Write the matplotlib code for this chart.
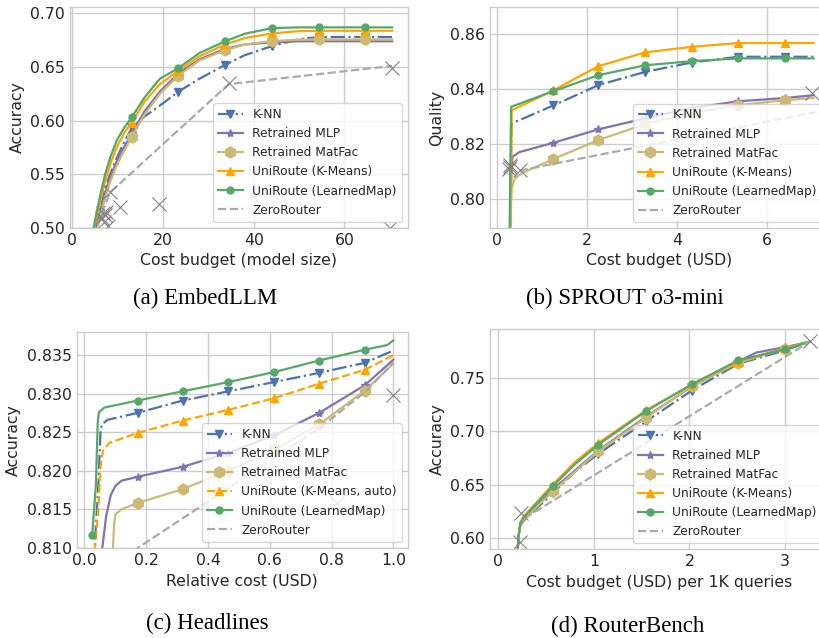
import matplotlib
matplotlib.use("Agg")
import matplotlib.pyplot as plt

# ---------------- data ----------------
# (a) EmbedLLM
a_marks = [13.1, 23.4, 33.7, 44.0, 54.3, 64.6]
a_knn_x = [5.2, 6.0, 7.0, 8.0, 9.5, 11.0, 13.1, 16.0, 19.3, 23.4, 28.0, 33.7, 38.0, 44.0, 50.0, 54.3, 64.6, 70.5]
a_knn_y = [0.500, 0.515, 0.532, 0.546, 0.562, 0.576, 0.593, 0.604, 0.614, 0.627, 0.639, 0.652, 0.661, 0.6695, 0.676, 0.678, 0.678, 0.678]
a_mlp_x = [5.4, 6.2, 7.0, 8.0, 9.2, 10.5, 11.8, 13.1, 16.0, 19.3, 23.4, 28.0, 33.7, 38.0, 44.0, 50.0, 54.3, 64.6, 70.5]
a_mlp_y = [0.500, 0.515, 0.528, 0.543, 0.556, 0.568, 0.578, 0.588, 0.609, 0.627, 0.644, 0.657, 0.667, 0.671, 0.673, 0.674, 0.674, 0.674, 0.674]
a_mf_x = [5.6, 6.4, 7.2, 8.2, 9.4, 10.7, 12.0, 13.1, 16.0, 19.3, 23.4, 28.0, 33.7, 38.0, 44.0, 50.0, 54.3, 64.6, 70.5]
a_mf_y = [0.500, 0.514, 0.527, 0.541, 0.554, 0.566, 0.576, 0.585, 0.606, 0.625, 0.642, 0.656, 0.6658, 0.671, 0.6742, 0.6755, 0.6757, 0.6757, 0.6757]
a_km_x = [4.9, 5.7, 6.5, 7.5, 8.6, 10.0, 11.5, 13.1, 16.0, 19.3, 23.4, 28.0, 33.7, 38.0, 44.0, 50.0, 54.3, 64.6, 70.5]
a_km_y = [0.500, 0.516, 0.531, 0.547, 0.562, 0.577, 0.589, 0.598, 0.618, 0.634, 0.6465, 0.660, 0.671, 0.677, 0.6813, 0.6835, 0.6838, 0.6838, 0.6838]
a_lm_x = [4.7, 5.5, 6.3, 7.25, 8.4, 9.8, 11.4, 13.1, 16.0, 19.3, 23.4, 28.0, 33.7, 38.0, 44.0, 50.0, 54.3, 64.6, 70.5]
a_lm_y = [0.500, 0.517, 0.533, 0.550, 0.566, 0.5815, 0.593, 0.603, 0.622, 0.639, 0.649, 0.663, 0.674, 0.681, 0.6863, 0.687, 0.687, 0.687, 0.687]
a_zero_x = [5.6, 8.35, 34.5, 70.5]
a_zero_y = [0.503, 0.533, 0.634, 0.651]
a_models_x = [6.5, 6.8, 7.0, 7.2, 7.5, 7.8, 8.35, 10.5, 19.2, 34.5, 70.5, 70.0]
a_models_y = [0.509, 0.514, 0.505, 0.512, 0.515, 0.502, 0.533, 0.519, 0.522, 0.635, 0.649, 0.500]

# (b) SPROUT o3-mini
b_marks = [1.26, 2.26, 3.30, 4.33, 5.37, 6.41]
b_knn_x = [0.29, 0.31, 0.33, 1.26, 2.26, 3.30, 4.33, 5.37, 6.41, 7.04]
b_knn_y = [0.780, 0.810, 0.8276, 0.8342, 0.8416, 0.8464, 0.8498, 0.8519, 0.8519, 0.8519]
b_mlp_x = [0.29, 0.31, 0.35, 0.50, 1.26, 2.26, 3.30, 4.33, 5.37, 6.41, 7.04]
b_mlp_y = [0.780, 0.805, 0.8155, 0.8172, 0.8206, 0.8255, 0.8295, 0.8333, 0.8357, 0.8369, 0.8379]
b_mf_x = [0.29, 0.30, 0.33, 0.40, 0.55, 1.26, 2.26, 3.30, 4.33, 5.37, 6.41, 7.04]
b_mf_y = [0.780, 0.795, 0.804, 0.8075, 0.8095, 0.8147, 0.8216, 0.8274, 0.8315, 0.8343, 0.8361, 0.8369]
b_km_x = [0.30, 0.32, 0.33, 1.26, 2.26, 3.30, 4.33, 5.37, 6.41, 7.04]
b_km_y = [0.780, 0.800, 0.8324, 0.8397, 0.8485, 0.8535, 0.8555, 0.8569, 0.8569, 0.8569]
b_lm_x = [0.28, 0.30, 0.32, 1.26, 2.26, 3.30, 4.33, 5.37, 6.41, 7.04]
b_lm_y = [0.780, 0.810, 0.8337, 0.8394, 0.8452, 0.8488, 0.8503, 0.8513, 0.8513, 0.8513]
b_zero_x = [0.51, 7.40]
b_zero_y = [0.8105, 0.8328]
b_models_x = [0.28, 0.29, 0.30, 0.51, 7.00]
b_models_y = [0.8110, 0.8125, 0.8118, 0.8108, 0.8388]

# (c) Headlines
c_marks = [0.172, 0.318, 0.466, 0.614, 0.760, 0.908]
c_knn_x = [0.030, 0.045, 0.052, 0.056, 0.075, 0.172, 0.318, 0.466, 0.614, 0.760, 0.908, 1.0]
c_knn_y = [0.808, 0.818, 0.8250, 0.8260, 0.8266, 0.8275, 0.8291, 0.8303, 0.8315, 0.8327, 0.8340, 0.8356]
c_mlp_x = [0.052, 0.070, 0.085, 0.100, 0.120, 0.172, 0.318, 0.466, 0.614, 0.760, 0.908, 1.0]
c_mlp_y = [0.808, 0.814, 0.8168, 0.8180, 0.8187, 0.8192, 0.8205, 0.8223, 0.8246, 0.8275, 0.8311, 0.8344]
c_mf_x = [0.090, 0.096, 0.100, 0.120, 0.172, 0.318, 0.466, 0.614, 0.760, 0.908, 1.0]
c_mf_y = [0.808, 0.813, 0.8143, 0.8150, 0.8158, 0.8176, 0.8200, 0.8227, 0.8260, 0.8304, 0.8339]
c_km_x = [0.030, 0.045, 0.052, 0.060, 0.080, 0.172, 0.318, 0.466, 0.614, 0.760, 0.908, 1.0]
c_km_y = [0.808, 0.815, 0.8205, 0.8226, 0.8236, 0.8249, 0.8265, 0.8279, 0.8294, 0.8313, 0.8331, 0.8350]
c_lm_x = [0.025, 0.037, 0.043, 0.047, 0.065, 0.172, 0.318, 0.466, 0.614, 0.760, 0.908, 0.980, 1.0]
c_lm_y = [0.8116, 0.818, 0.8262, 0.8276, 0.8282, 0.8291, 0.8303, 0.8315, 0.8328, 0.8343, 0.8357, 0.8363, 0.8369]
c_lm_marks = [0.025] + c_marks
c_zero_x = [0.03, 0.76, 0.908, 1.0]
c_zero_y = [0.8062, 0.8255, 0.8302, 0.8340]
c_models_x = [1.0, 0.817]
c_models_y = [0.8298, 0.8158]

# (d) RouterBench
d_marks = [0.569, 1.046, 1.545, 2.023, 2.51, 3.0]
d_knn_x = [0.20, 0.21, 0.23, 0.27, 0.569, 0.80, 1.046, 1.545, 2.023, 2.51, 3.0, 3.26]
d_knn_y = [0.585, 0.600, 0.612, 0.617, 0.642, 0.662, 0.679, 0.709, 0.738, 0.763, 0.7755, 0.7837]
d_mlp_x = [0.20, 0.21, 0.23, 0.27, 0.569, 1.046, 1.545, 2.023, 2.51, 2.70, 3.0, 3.26]
d_mlp_y = [0.585, 0.600, 0.613, 0.618, 0.6455, 0.682, 0.7135, 0.7415, 0.765, 0.7735, 0.7785, 0.7837]
d_mf_x = [0.20, 0.21, 0.23, 0.27, 0.569, 0.80, 1.046, 1.545, 2.023, 2.51, 3.0, 3.26]
d_mf_y = [0.585, 0.600, 0.613, 0.618, 0.6437, 0.662, 0.6812, 0.7125, 0.742, 0.764, 0.777, 0.7837]
d_km_x = [0.20, 0.21, 0.23, 0.27, 0.569, 0.80, 1.046, 1.545, 2.023, 2.51, 3.0, 3.26]
d_km_y = [0.585, 0.600, 0.615, 0.621, 0.650, 0.671, 0.689, 0.7195, 0.7435, 0.765, 0.7775, 0.7837]
d_lm_x = [0.20, 0.21, 0.23, 0.27, 0.569, 0.80, 1.046, 1.545, 2.023, 2.51, 3.0, 3.26]
d_lm_y = [0.585, 0.600, 0.614, 0.620, 0.6484, 0.669, 0.6874, 0.7187, 0.7437, 0.7662, 0.7765, 0.7837]
d_zero_x = [0.276, 3.26]
d_zero_y = [0.6187, 0.7837]
d_models_x = [0.234, 0.23, 3.26]
d_models_y = [0.624, 0.5968, 0.7843]

# ---------------- style ----------------
plt.rcParams.update({
    "font.family": "DejaVu Sans",
    "axes.edgecolor": "0.8",
    "axes.linewidth": 1.0,
    "axes.grid": True,
    "grid.color": "0.8",
    "grid.linewidth": 1.0,
    "xtick.major.size": 0,
    "ytick.major.size": 0,
    "xtick.color": "0.15",
    "ytick.color": "0.15",
    "axes.labelcolor": "0.15",
    "text.color": "0.15",
    "xtick.labelsize": 11.3,
    "ytick.labelsize": 11.3,
    "axes.labelsize": 11.3,
    "legend.fontsize": 8.8,
})

BLUE, PURPLE, TAN, ORANGE, GREEN = "#4C72B0", "#8172B3", "#CCB974", "#FFA500", "#55A868"


def marks_idx(xs, marks):
    return [i for i, v in enumerate(xs) if v in marks]


def draw_panel(ax, series, zero, models, km_label="UniRoute (K-Means)", km_ls="-"):
    (knn, mlp, mf, km, lm) = series
    ax.plot(knn[0], knn[1], color=BLUE, ls="-.", lw=1.6, marker="v", ms=6,
            markevery=marks_idx(knn[0], knn[2]), label="K-NN")
    ax.plot(mlp[0], mlp[1], color=PURPLE, ls="-", lw=1.6, marker="*", ms=6,
            markevery=marks_idx(mlp[0], mlp[2]), label="Retrained MLP")
    ax.plot(mf[0], mf[1], color=TAN, ls="-", lw=1.6, marker="h", ms=8,
            markevery=marks_idx(mf[0], mf[2]), label="Retrained MatFac")
    ax.plot(km[0], km[1], color=ORANGE, ls=km_ls, lw=1.6, marker="^", ms=6,
            markevery=marks_idx(km[0], km[2]), label=km_label)
    ax.plot(lm[0], lm[1], color=GREEN, ls="-", lw=1.6, marker="o", ms=5,
            markevery=marks_idx(lm[0], lm[2]), label="UniRoute (LearnedMap)")
    ax.plot(zero[0], zero[1], color="#AAAAAA", ls="--", lw=1.6, label="ZeroRouter")
    ax.plot(models[0], models[1], ls="none", marker="x", ms=10, mew=0.8, color="gray")
    ax.legend(loc="lower right", framealpha=0.8, edgecolor="0.8")


fig = plt.figure(figsize=(8.2, 6.38), dpi=100)

# (a)
ax = fig.add_axes([70 / 820, 1 - 227.7 / 638, 338 / 820, 220.7 / 638])
draw_panel(ax, [(a_knn_x, a_knn_y, a_marks), (a_mlp_x, a_mlp_y, a_marks), (a_mf_x, a_mf_y, a_marks),
                (a_km_x, a_km_y, a_marks), (a_lm_x, a_lm_y, a_marks)],
           (a_zero_x, a_zero_y), (a_models_x, a_models_y))
ax.set_xlim(-0.5, 74)
ax.set_ylim(0.5, 0.706)
ax.set_xticks([0, 20, 40, 60])
ax.set_yticks([0.50, 0.55, 0.60, 0.65, 0.70])
ax.set_xlabel("Cost budget (model size)", labelpad=4)
ax.set_ylabel("Accuracy")

# (b)
ax = fig.add_axes([490 / 820, 1 - 228 / 638, 338 / 820, 221 / 638])
draw_panel(ax, [(b_knn_x, b_knn_y, b_marks), (b_mlp_x, b_mlp_y, b_marks), (b_mf_x, b_mf_y, b_marks),
                (b_km_x, b_km_y, b_marks), (b_lm_x, b_lm_y, b_marks)],
           (b_zero_x, b_zero_y), (b_models_x, b_models_y))
ax.set_xlim(-0.15, 7.36)
ax.set_ylim(0.7896, 0.870)
ax.set_xticks([0, 2, 4, 6])
ax.set_yticks([0.80, 0.82, 0.84, 0.86])
ax.set_xlabel("Cost budget (USD)", labelpad=4)
ax.set_ylabel("Quality")

# (c)
ax = fig.add_axes([76.7 / 820, 1 - 547.7 / 638, 331.3 / 820, 215.7 / 638])
draw_panel(ax, [(c_knn_x, c_knn_y, c_marks), (c_mlp_x, c_mlp_y, c_marks), (c_mf_x, c_mf_y, c_marks),
                (c_km_x, c_km_y, c_marks), (c_lm_x, c_lm_y, c_lm_marks)],
           (c_zero_x, c_zero_y), (c_models_x, c_models_y),
           km_label="UniRoute (K-Means, auto)", km_ls="--")
ax.set_xlim(-0.025, 1.0475)
ax.set_ylim(0.810, 0.838)
ax.set_xticks([0.0, 0.2, 0.4, 0.6, 0.8, 1.0])
ax.set_yticks([0.810, 0.815, 0.820, 0.825, 0.830, 0.835])
ax.set_xlabel("Relative cost (USD)", labelpad=4)
ax.set_ylabel("Accuracy")

# (d)
ax = fig.add_axes([490 / 820, 1 - 549.3 / 638, 338 / 820, 220 / 638])
draw_panel(ax, [(d_knn_x, d_knn_y, d_marks), (d_mlp_x, d_mlp_y, d_marks), (d_mf_x, d_mf_y, d_marks),
                (d_km_x, d_km_y, d_marks), (d_lm_x, d_lm_y, d_marks)],
           (d_zero_x, d_zero_y), (d_models_x, d_models_y))
ax.set_xlim(-0.087, 3.45)
ax.set_ylim(0.5897, 0.7952)
ax.set_xticks([0, 1, 2, 3])
ax.set_yticks([0.60, 0.65, 0.70, 0.75])
ax.set_xlabel("Cost budget (USD) per 1K queries", labelpad=4)
ax.set_ylabel("Accuracy")

# captions
cap = dict(ha="center", va="center", fontsize=16.5, family="Liberation Serif", color="black")
fig.text(205 / 820, 1 - 298 / 638, "(a) EmbedLLM", **cap)
fig.text(625 / 820, 1 - 298 / 638, "(b) SPROUT o3-mini", **cap)
fig.text(207 / 820, 1 - 623 / 638, "(c) Headlines", **cap)
fig.text(628 / 820, 1 - 626 / 638, "(d) RouterBench", **cap)

fig.savefig("out.png", dpi=100)
